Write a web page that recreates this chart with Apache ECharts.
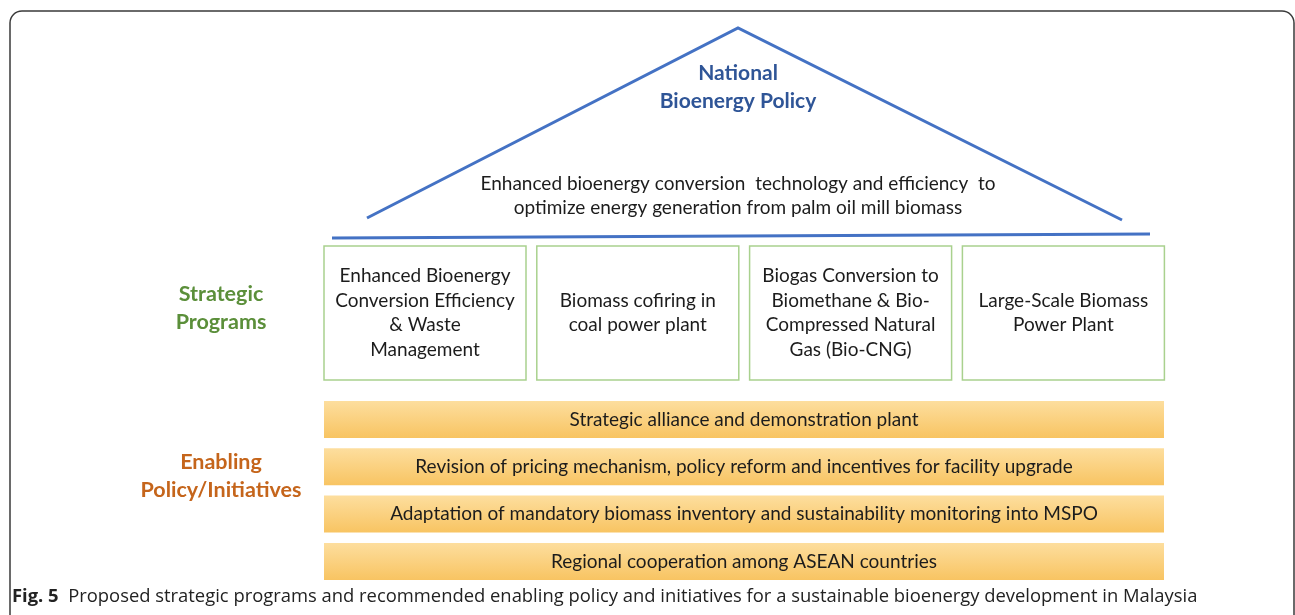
<!DOCTYPE html>
<html><head><meta charset="utf-8">
<script src="https://cdn.jsdelivr.net/npm/echarts@6/dist/echarts.min.js"></script>
<style>html,body{margin:0;padding:0;background:#fff}#c{width:1295px;height:615px}</style>
</head><body><div id="c"></div>
<script>
// ---- content ----
const titleLines = ['National', 'Bioenergy Policy'];
const goalLines = ['Enhanced bioenergy conversion  technology and efficiency  to', 'optimize energy generation from palm oil mill biomass'];
const programsLabel = ['Strategic', 'Programs'];
const programs = [
  'Enhanced Bioenergy\nConversion Efficiency\n& Waste\nManagement',
  'Biomass cofiring in\ncoal power plant',
  'Biogas Conversion to\nBiomethane & Bio-\nCompressed Natural\nGas (Bio-CNG)',
  'Large-Scale Biomass\nPower Plant'
];
const initiativesLabel = ['Enabling', 'Policy/Initiatives'];
const initiatives = [
  'Strategic alliance and demonstration plant',
  'Revision of pricing mechanism, policy reform and incentives for facility upgrade',
  'Adaptation of mandatory biomass inventory and sustainability monitoring into MSPO',
  'Regional cooperation among ASEAN countries'
];
const captionBold = 'Fig. 5';
const captionText = 'Proposed strategic programs and recommended enabling policy and initiatives for a sustainable bioenergy development in Malaysia';

// ---- layout (diagram units = pixels of the reference) ----
const L = {
  frame: {x: 10, y: 11, w: 1284, h: 700, r: 12},
  roof: [[367, 218], [738, 28], [1122, 220]],
  base: [[332, 238], [1150, 234]],
  titleX: 738, titleY: [73, 101],
  goalX: 738, goalY: [184, 208],
  sideX: 221, progLabelY: [294, 322], initLabelY: [462, 490],
  box: {x0: 324, step: 212.8, w: 202, y: 246, h: 134},
  bar: {x: 324, w: 840, y0: 401, step: 47.3, h: 37},
  caption: {x: 12, y: 597}
};
const FONT = 'Lato, "Open Sans", sans-serif';
const S = {
  blue: '#4472C4', titleBlue: '#2F5597', green: '#5B8F3A', greenBorder: '#A9D18E',
  orange: '#C5651B', text: '#1c1c1c', bodySize: 19, titleSize: 21, labelSize: 21.5, captionSize: 18.4
};

const chart = echarts.init(document.getElementById('c'), null, {renderer: 'canvas'});

function txt(api, x, y, text, opts) {
  const p = api.coord([x, y]);
  return {type: 'text', x: p[0], y: p[1], style: Object.assign({
    text: text, fill: S.text, fontFamily: FONT, fontSize: S.bodySize,
    align: 'center', verticalAlign: 'middle'
  }, opts || {})};
}

const series = [
  { // frame
    type: 'custom', silent: true, clip: false, data: [[0, 0]],
    renderItem: (params, api) => {
      const f = L.frame, p0 = api.coord([f.x, f.y]), p1 = api.coord([f.x + f.w, f.y + f.h]);
      return {type: 'rect', shape: {x: p0[0], y: p0[1], width: p1[0] - p0[0], height: p1[1] - p0[1], r: f.r},
        style: {fill: 'none', stroke: '#3a3a3a', lineWidth: 1.5}};
    }
  },
  { // roof + base line
    type: 'custom', silent: true, clip: false, data: [[0, 0]],
    renderItem: (params, api) => ({type: 'group', children: [
      {type: 'polyline', shape: {points: L.roof.map(p => api.coord(p))}, style: {fill: 'none', stroke: S.blue, lineWidth: 3}},
      {type: 'polyline', shape: {points: L.base.map(p => api.coord(p))}, style: {fill: 'none', stroke: S.blue, lineWidth: 3}}
    ]})
  },
  { // title, goal and side labels
    type: 'custom', silent: true, clip: false, data: [[0, 0]],
    renderItem: (params, api) => ({type: 'group', children: [
      ...titleLines.map((t, i) => txt(api, L.titleX, L.titleY[i], t, {fill: S.titleBlue, fontWeight: 'bold', fontSize: S.titleSize})),
      ...goalLines.map((t, i) => txt(api, L.goalX, L.goalY[i], t)),
      ...programsLabel.map((t, i) => txt(api, L.sideX, L.progLabelY[i], t, {fill: S.green, fontWeight: 'bold', fontSize: S.labelSize})),
      ...initiativesLabel.map((t, i) => txt(api, L.sideX, L.initLabelY[i], t, {fill: S.orange, fontWeight: 'bold', fontSize: S.labelSize}))
    ]})
  },
  { // program boxes
    type: 'custom', silent: true, clip: false,
    data: programs.map((n, i) => ({name: n, value: [i, 0]})),
    renderItem: (params, api) => {
      const i = params.dataIndex, b = L.box;
      const x = b.x0 + i * b.step;
      const p0 = api.coord([x, b.y]), p1 = api.coord([x + b.w, b.y + b.h]);
      return {type: 'group', children: [
        {type: 'rect', shape: {x: p0[0], y: p0[1], width: p1[0] - p0[0], height: p1[1] - p0[1]},
          style: {fill: '#fff', stroke: S.greenBorder, lineWidth: 1.5}},
        txt(api, x + b.w / 2, b.y + b.h / 2, programs[i], {lineHeight: 24.7})
      ]};
    }
  },
  { // initiative bars
    type: 'custom', silent: true, clip: false,
    data: initiatives.map((n, i) => ({name: n, value: [i, 0]})),
    renderItem: (params, api) => {
      const i = params.dataIndex, b = L.bar;
      const y = b.y0 + i * b.step;
      const p0 = api.coord([b.x, y]), p1 = api.coord([b.x + b.w, y + b.h]);
      return {type: 'group', children: [
        {type: 'rect', shape: {x: p0[0], y: p0[1], width: p1[0] - p0[0], height: p1[1] - p0[1]},
          style: {fill: new echarts.graphic.LinearGradient(0, 0, 0, 1, [
            {offset: 0, color: '#FDDE9E'}, {offset: 1, color: '#F8C462'}])}},
        txt(api, b.x + b.w / 2, y + b.h / 2, initiatives[i])
      ]};
    }
  },
  { // caption
    type: 'custom', silent: true, clip: false, data: [[0, 0]],
    renderItem: (params, api) => txt(api, L.caption.x, L.caption.y, '{b|' + captionBold + '}  ' + captionText, {
      align: 'left', fontFamily: '"Open Sans", sans-serif', fontSize: S.captionSize, fill: '#222',
      rich: {b: {fontFamily: '"Open Sans", sans-serif', fontWeight: 'bold', fontSize: S.captionSize, fill: '#222'}}
    })
  }
];

chart.setOption({
  animation: false,
  grid: {left: 0, right: 0, top: 0, bottom: 0},
  xAxis: {type: 'value', min: 0, max: 1295, show: false},
  yAxis: {type: 'value', min: 0, max: 615, inverse: true, show: false},
  series: series
});
</script></body></html>
